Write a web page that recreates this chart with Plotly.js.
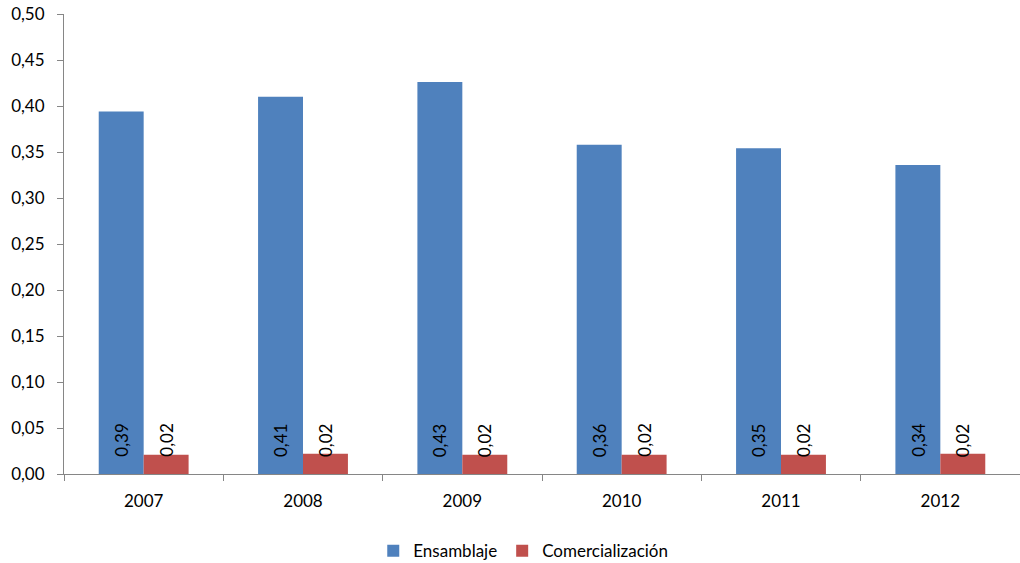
<!DOCTYPE html>
<html><head><meta charset="utf-8">
<script src="https://cdn.plot.ly/plotly-3.0.1.min.js"></script>
<style>body{margin:0;background:#fff}#c{width:1020px;height:563px}</style>
</head><body><div id="c"></div>
<script>
var years = ['2007','2008','2009','2010','2011','2012'];
var ensamblaje = [0.394, 0.410, 0.426, 0.358, 0.354, 0.336];
var comercializacion = [0.021, 0.022, 0.021, 0.021, 0.021, 0.022];
var seriesNames = ['Ensamblaje','Comercialización'];
var colors = ['#4F81BD','#C0504D'];

var FONT = 'Lato, "Open Sans", sans-serif';
function fmt(v){ return v.toFixed(2).replace('.', ','); }

var traces = [ensamblaje, comercializacion].map(function(vals, i){
  return {type:'bar', name:seriesNames[i], x:years, y:vals,
    marker:{color:colors[i]}, hoverinfo:'none'};
});

var annotations = [];
[ensamblaje, comercializacion].forEach(function(vals, i){
  vals.forEach(function(v, j){
    annotations.push({x:j, y:0, xref:'x', yref:'y', text:fmt(v),
      showarrow:false, textangle:-90, yanchor:'bottom', xanchor:'center',
      xshift:(i===0?-22.5:22.5), yshift:15,
      font:{family:FONT, size:17, color:'#000'}});
  });
});

var layout = {
  width:1020, height:563,
  margin:{l:64, r:0, t:14, b:89, pad:0, autoexpand:false},
  paper_bgcolor:'#fff', plot_bgcolor:'#fff',
  separators:', ',
  barmode:'group', bargap:0.436, bargroupgap:0,
  font:{family:FONT, size:17, color:'#000'},
  xaxis:{type:'category', categoryarray:years, range:[-0.5, years.length-0.5], autorange:false,
    showgrid:false, showline:true, linecolor:'#868686', linewidth:1,
    ticks:'outside', tickson:'boundaries', ticklen:6, tickcolor:'#868686', tickangle:0,
    ticklabelstandoff:12, automargin:false,
    tickfont:{family:FONT, size:17, color:'#000'}, fixedrange:true},
  yaxis:{range:[0,0.5], autorange:false, dtick:0.05, tickformat:'.2f', showgrid:false, zeroline:false,
    showline:true, linecolor:'#868686', linewidth:1, ticks:'outside', ticklen:6,
    ticklabelstandoff:9, automargin:false,
    tickcolor:'#868686', tickfont:{family:FONT, size:17, color:'#000'}, fixedrange:true},
  showlegend:true,
  legend:{orientation:'h', xref:'container', x:0.513, xanchor:'center', yref:'container', y:0.021, yanchor:'middle',
    font:{family:FONT, size:17, color:'#000'}, itemwidth:30, traceorder:'normal'},
  annotations:annotations
};

Plotly.newPlot('c', traces, layout, {displayModeBar:false, staticPlot:true});
</script></body></html>
